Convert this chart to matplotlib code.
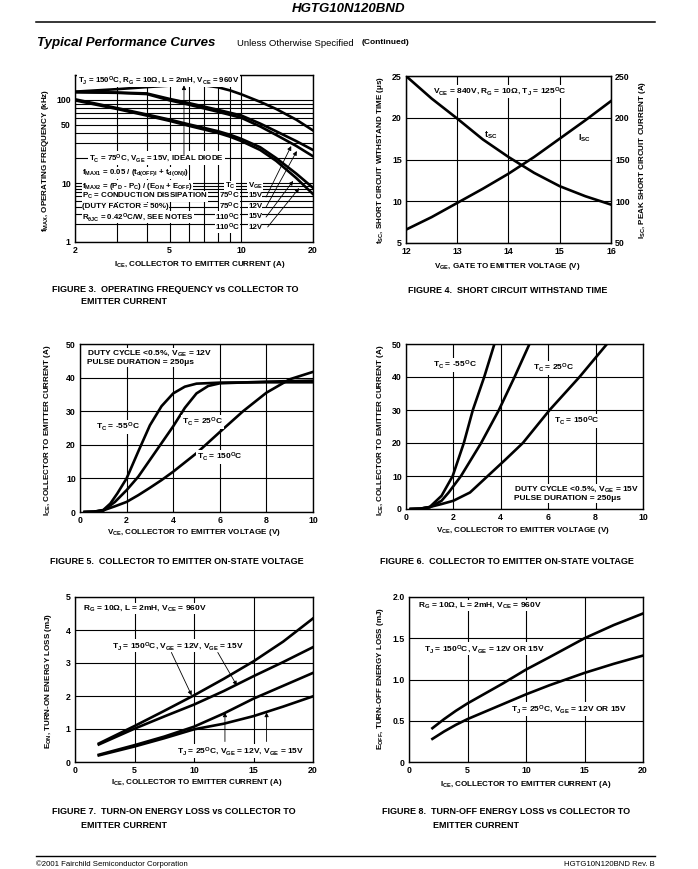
import numpy as np
import matplotlib
matplotlib.use("Agg")
import matplotlib.pyplot as plt
from matplotlib.ticker import FixedLocator, NullFormatter

plt.rcParams['font.family'] = ['Liberation Sans', 'DejaVu Sans']
plt.rcParams['font.weight'] = 'bold'
plt.rcParams['mathtext.fontset'] = 'custom'
plt.rcParams['mathtext.rm'] = 'Liberation Sans:bold'
plt.rcParams['mathtext.it'] = 'Liberation Sans:bold'
plt.rcParams['mathtext.bf'] = 'Liberation Sans:bold'
plt.rcParams['mathtext.default'] = 'regular'

# ---- Figure 3: fMAX vs ICE (log-log)
ice3 = [2, 3, 4, 5, 6, 7, 8, 9, 10, 12, 14, 17, 20]
fmax_diode = [126, 135, 143, 149, 151, 150, 142, 130, 117, 95, 78, 58, 43]
fmax_75_15 = [125, 123, 120, 103, 92, 83, 76, 70, 65, 52, 42, 32, 25]
fmax_75_12 = [124, 122, 118, 99, 88, 79, 72, 66, 61, 48, 38, 28, 21]
fmax_110_15 = [102, 80, 67, 58, 51, 46, 42, 38, 34, 27, 20, 13, 8.3]
fmax_110_12 = [99, 78, 65, 56, 49, 44, 40, 36, 32, 25, 18.5, 11.5, 6.5]

# ---- Figure 4: short circuit withstand time
vge4 = [12, 12.5, 13, 13.5, 14, 14.5, 15, 15.5, 16]
tsc = [25, 22.3, 19.9, 17.4, 15.3, 13.4, 11.8, 10.6, 9.6]
isc = [66, 81, 98, 115, 133, 153, 175, 197, 220]

# ---- Figure 5: on-state voltage, VGE = 12V
vce5_m55 = [0.2, 0.6, 1.0, 1.3, 1.6, 2.0, 2.5, 3.0, 3.5, 4.0, 4.5, 5.0, 6.0, 8.0, 10.0]
ice5_m55 = [0, 0.1, 0.6, 2.5, 5.5, 10, 18, 25.8, 31.5, 35.3, 37.3, 38.2, 38.5, 38.6, 38.6]
vce5_25 = [0.2, 0.6, 1.0, 1.5, 2.0, 2.5, 3.0, 3.5, 4.0, 4.5, 5.0, 5.5, 6.0, 8.0, 10.0]
ice5_25 = [0, 0.1, 0.4, 3, 6.5, 10.5, 15.5, 20.5, 25.5, 31, 35.3, 37.5, 38.3, 38.8, 39.1]
vce5_150 = [0.2, 0.6, 1.0, 1.5, 2.0, 2.5, 3.0, 3.5, 4.0, 5.0, 6.0, 7.0, 8.0, 9.0, 10.0]
ice5_150 = [0, 0.1, 0.5, 1.7, 3, 5, 7.2, 9.5, 12, 17.5, 23.8, 30, 35.5, 39.5, 41.7]

# ---- Figure 6: on-state voltage, VGE = 15V
vce6_m55 = [0.2, 0.6, 1.0, 1.5, 1.97, 2.44, 2.82, 3.3, 3.73]
ice6_m55 = [0, 0.1, 0.6, 4, 10, 20, 30, 40, 50]
vce6_25 = [0.2, 0.6, 1.0, 1.5, 1.8, 2.32, 3.17, 3.92, 4.58, 5.21]
ice6_25 = [0, 0.1, 0.5, 2.5, 5, 10, 20, 30, 40, 50]
vce6_150 = [0.2, 0.6, 1.0, 1.5, 2.0, 2.7, 3.45, 4.2, 4.93, 6.06, 7.32, 8.48]
ice6_150 = [0, 0.1, 0.6, 1.5, 2.5, 5, 10, 15, 20, 30, 40, 50]

# ---- Figure 7: turn-on energy loss
ice7 = [2, 5, 7.5, 10, 12.5, 15, 17.5, 20]
eon_150_12 = [0.56, 1.09, 1.55, 2.02, 2.52, 3.05, 3.65, 4.35]
eon_150_15 = [0.53, 1.01, 1.38, 1.74, 2.15, 2.6, 3.03, 3.48]
eon_25_12 = [0.22, 0.51, 0.77, 1.07, 1.47, 1.92, 2.31, 2.7]
eon_25_15 = [0.2, 0.47, 0.72, 0.99, 1.16, 1.39, 1.68, 1.99]

# ---- Figure 8: turn-off energy loss
ice8 = [2, 3, 4, 5, 6, 8, 10, 12, 15, 17.5, 20]
eoff_150 = [0.41, 0.52, 0.62, 0.71, 0.79, 0.95, 1.12, 1.27, 1.5, 1.66, 1.8]
eoff_25 = [0.28, 0.37, 0.45, 0.52, 0.58, 0.7, 0.82, 0.93, 1.08, 1.19, 1.29]

W, H = 698, 869
fig = plt.figure(figsize=(W / 100, H / 100), dpi=100)
LW = 1.9


def box(l, t, r, b):
    return fig.add_axes([l / W, 1 - b / H, (r - l) / W, (b - t) / H])


def ftext(x, y, s, **kw):
    kw.setdefault('fontsize', 6.5)
    kw.setdefault('va', 'center')
    fig.text(x / W, 1 - y / H, s, **kw)


def note(ax, x, y, s, pad=0.6, **kw):
    kw.setdefault('fontsize', 6)
    kw.setdefault('va', 'center')
    ax.text(x, y, s, transform=ax.transAxes, zorder=5,
            bbox=dict(fc='white', ec='none', pad=pad), **kw)


def arrow(ax, head, tail):
    ax.annotate('', xy=head, xytext=tail, zorder=6,
                arrowprops=dict(arrowstyle='-|>', lw=0.6, color='black',
                                mutation_scale=6, shrinkA=0, shrinkB=0))


def style(ax):
    ax.tick_params(which='both', length=0, labelsize=6.3, pad=3)
    for s in ax.spines.values():
        s.set_linewidth(1.0)
    ax.grid(True, which='both', color='black', lw=0.8)
    ax.set_axisbelow(True)


def deg(t):
    return t + r'$^{O}$C'


# page header / footer
ftext(349, 9, 'HGTG10N120BND', ha='center', fontsize=9.5, style='italic')
fig.add_artist(plt.Line2D([36 / W, 655 / W], [1 - 22 / H, 1 - 22 / H], color='black', lw=1.1))
ftext(37, 43, 'Typical Performance Curves', fontsize=9.5, style='italic')
ftext(237, 43, 'Unless Otherwise Specified', fontsize=6.8, weight='normal',
      family=['Liberation Sans Narrow', 'Liberation Sans'])
ftext(362, 43, '(Continued)', fontsize=6)
fig.add_artist(plt.Line2D([36 / W, 655 / W], [1 - 856 / H, 1 - 856 / H], color='black', lw=1.0))
ftext(36, 864, '\u00a92001 Fairchild Semiconductor Corporation', fontsize=5.6, weight='normal',
      family=['Liberation Sans Narrow', 'Liberation Sans'])
ftext(655, 864, 'HGTG10N120BND Rev. B', fontsize=5.6, weight='normal', ha='right',
      family=['Liberation Sans Narrow', 'Liberation Sans'])

# ================= Figure 3
K = 0.71


def fwd(y):
    l = np.log10(np.maximum(np.asarray(y, dtype=float), 1e-6))
    return np.where(l >= 1, l, 1 + K * (l - 1))


def inv(v):
    v = np.asarray(v, dtype=float)
    return np.where(v >= 1, 10 ** v, 10 ** (1 + (v - 1) / K))


ax3 = box(75, 75, 313, 242)
ax3.set_xscale('log')
ax3.set_yscale('function', functions=(fwd, inv))
for ys in [fmax_diode, fmax_75_15, fmax_75_12, fmax_110_15, fmax_110_12]:
    ax3.plot(ice3, ys, color='black', lw=LW)
ax3.set_xlim(2, 20)
ax3.set_ylim(1, 200)
ax3.xaxis.set_major_locator(FixedLocator([2, 5, 10, 20]))
ax3.xaxis.set_minor_locator(FixedLocator([3, 4, 6, 7, 8, 9]))
ax3.set_xticklabels(['2', '5', '10', '20'])
ax3.yaxis.set_major_locator(FixedLocator([1, 10, 50, 100]))
ax3.yaxis.set_minor_locator(FixedLocator([2, 3, 4, 5, 6, 7, 8, 9, 20, 30, 40, 60, 70, 80, 90, 200]))
ax3.set_yticklabels(['1', '10', '50', '100'])
ax3.xaxis.set_minor_formatter(NullFormatter())
ax3.yaxis.set_minor_formatter(NullFormatter())
style(ax3)
FS3 = 5.7
note(ax3, 0.013, 0.97, r'T$_{J}$ = ' + deg('150') + r', R$_{G}$ = 10Ω, L = 2mH, V$_{CE}$ = 960V', fontsize=FS3)
note(ax3, 0.06, 0.503, r'T$_{C}$ = ' + deg('75') + r', V$_{GE}$ = 15V, IDEAL DIODE', fontsize=FS3)
block = [r'f$_{MAX1}$ = 0.05 / (t$_{d(OFF)I}$ + t$_{d(ON)I}$)',
         r'f$_{MAX2}$ = (P$_{D}$ - P$_{C}$) / (E$_{ON}$ + E$_{OFF}$)',
         r'P$_{C}$ = CONDUCTION DISSIPATION',
         '(DUTY FACTOR = 50%)',
         r'R$_{θJC}$ = 0.42' + r'$^{O}$C/W, SEE NOTES']
block_y = [0.413, 0.335, 0.275, 0.211, 0.150]
for s, yy in zip(block, block_y):
    note(ax3, 0.029, yy, s, pad=0.3, fontsize=FS3)
note(ax3, 0.652, 0.335, r'T$_{C}$', ha='center', pad=0.3, fontsize=FS3)
note(ax3, 0.757, 0.335, r'V$_{GE}$', ha='center', pad=0.3, fontsize=FS3)
tc_rows = ['75', '75', '110', '110']
vge_rows = ['15V', '12V', '15V', '12V']
row_y = [0.277, 0.213, 0.150, 0.086]
for tc, vg, yy in zip(tc_rows, vge_rows, row_y):
    note(ax3, 0.693, yy, deg(tc), ha='right', pad=0.1, fontsize=FS3)
    note(ax3, 0.727, yy, vg, ha='left', pad=0.1, fontsize=FS3)
arrow(ax3, (5.74, 150), (5.74, 22))
arrow(ax3, (16.2, 27.9), (12.7, 5.8))
arrow(ax3, (17.1, 24.3), (12.7, 3.9))
arrow(ax3, (16.5, 10.6), (12.7, 2.65))
arrow(ax3, (17.5, 8.2), (12.9, 1.8))
ftext(46, 160, r'f$_{MAX}$, OPERATING FREQUENCY (kHz)', rotation=90, ha='center', fontsize=5.8)
ftext(200, 264, r'I$_{CE}$, COLLECTOR TO EMITTER CURRENT (A)', ha='center', fontsize=5.8)
ftext(52, 290, 'FIGURE 3.  OPERATING FREQUENCY vs COLLECTOR TO')
ftext(81, 302, 'EMITTER CURRENT')

# ================= Figure 4
ax4 = box(406, 76, 611, 243)
ax4.plot(vge4, tsc, color='black', lw=LW)
ax4.set_xlim(12, 16)
ax4.set_ylim(5, 25)
ax4.set_xticks([12, 13, 14, 15, 16])
ax4.set_yticks([5, 10, 15, 20, 25])
style(ax4)
ax4b = ax4.twinx()
ax4b.plot(vge4, isc, color='black', lw=LW)
ax4b.set_ylim(50, 250)
ax4b.set_yticks([50, 100, 150, 200, 250])
ax4b.tick_params(length=0, labelsize=6.3, pad=3)
note(ax4, 0.134, 0.909, r'V$_{CE}$ = 840V, R$_{G}$ = 10Ω, T$_{J}$ = ' + deg('125'))
ax4.text(0.413, 0.646, r't$_{SC}$', transform=ax4.transAxes, fontsize=6.3, ha='center', va='center')
ax4.text(0.868, 0.628, r'I$_{SC}$', transform=ax4.transAxes, fontsize=6.3, ha='center', va='center')
ftext(381, 160, r't$_{SC}$, SHORT CIRCUIT WITHSTAND TIME (μs)', rotation=90, ha='center', fontsize=5.8)
ftext(643, 160, r'I$_{SC}$, PEAK SHORT CIRCUIT CURRENT (A)', rotation=90, ha='center', fontsize=5.8)
ftext(507, 267, r'V$_{GE}$, GATE TO EMITTER VOLTAGE (V)', ha='center', fontsize=5.8)
ftext(408, 291, 'FIGURE 4.  SHORT CIRCUIT WITHSTAND TIME')

# ================= Figure 5
ax5 = box(80, 344, 313, 512)
ax5.plot(vce5_m55, ice5_m55, color='black', lw=LW)
ax5.plot(vce5_25, ice5_25, color='black', lw=LW)
ax5.plot(vce5_150, ice5_150, color='black', lw=LW)
ax5.set_xlim(0, 10)
ax5.set_ylim(0, 50)
ax5.set_xticks([0, 2, 4, 6, 8, 10])
ax5.set_yticks([0, 10, 20, 30, 40, 50])
style(ax5)
note(ax5, 0.032, 0.946, r'DUTY CYCLE <0.5%, V$_{GE}$ = 12V')
note(ax5, 0.032, 0.887, 'PULSE DURATION = 250μs')
note(ax5, 0.067, 0.505, r'T$_{C}$ = ' + deg('-55'))
note(ax5, 0.439, 0.537, r'T$_{C}$ = ' + deg('25'))
note(ax5, 0.503, 0.328, r'T$_{C}$ = ' + deg('150'))
ftext(48, 430, r'I$_{CE}$, COLLECTOR TO EMITTER CURRENT (A)', rotation=90, ha='center', fontsize=5.8)
ftext(194, 533, r'V$_{CE}$, COLLECTOR TO EMITTER VOLTAGE (V)', ha='center', fontsize=5.8)
ftext(50, 562, 'FIGURE 5.  COLLECTOR TO EMITTER ON-STATE VOLTAGE')

# ================= Figure 6
ax6 = box(406, 344, 643, 509)
ax6.plot(vce6_m55, ice6_m55, color='black', lw=LW)
ax6.plot(vce6_25, ice6_25, color='black', lw=LW)
ax6.plot(vce6_150, ice6_150, color='black', lw=LW)
ax6.set_xlim(0, 10)
ax6.set_ylim(0, 50)
ax6.set_xticks([0, 2, 4, 6, 8, 10])
ax6.set_yticks([0, 10, 20, 30, 40, 50])
style(ax6)
note(ax6, 0.115, 0.873, r'T$_{C}$ = ' + deg('-55'))
note(ax6, 0.534, 0.855, r'T$_{C}$ = ' + deg('25'))
note(ax6, 0.623, 0.533, r'T$_{C}$ = ' + deg('150'))
note(ax6, 0.454, 0.121, r'DUTY CYCLE <0.5%, V$_{GE}$ = 15V')
note(ax6, 0.454, 0.061, 'PULSE DURATION = 250μs')
ftext(380, 430, r'I$_{CE}$, COLLECTOR TO EMITTER CURRENT (A)', rotation=90, ha='center', fontsize=5.8)
ftext(523, 530, r'V$_{CE}$, COLLECTOR TO EMITTER VOLTAGE (V)', ha='center', fontsize=5.8)
ftext(380, 562, 'FIGURE 6.  COLLECTOR TO EMITTER ON-STATE VOLTAGE')

# ================= Figure 7
ax7 = box(75, 597, 313, 762)
for ys in [eon_150_12, eon_150_15, eon_25_12, eon_25_15]:
    ax7.plot(ice7, ys, color='black', lw=LW)
ax7.set_xlim(0, 20)
ax7.set_ylim(0, 5)
ax7.set_xticks([0, 5, 10, 15, 20])
ax7.set_yticks([0, 1, 2, 3, 4, 5])
style(ax7)
note(ax7, 0.034, 0.932, r'R$_{G}$ = 10Ω, L = 2mH, V$_{CE}$ = 960V')
note(ax7, 0.154, 0.705, r'T$_{J}$ = ' + deg('150') + r', V$_{GE}$ = 12V, V$_{GE}$ = 15V')
note(ax7, 0.427, 0.067, r'T$_{J}$ = ' + deg('25') + r', V$_{GE}$ = 12V, V$_{GE}$ = 15V')
arrow(ax7, (9.8, 2.02), (8.1, 3.32))
arrow(ax7, (13.6, 2.32), (12.0, 3.32))
arrow(ax7, (12.6, 1.5), (12.6, 0.62))
arrow(ax7, (16.1, 1.5), (16.1, 0.62))
ftext(49, 681, r'E$_{ON}$, TURN-ON ENERGY LOSS (mJ)', rotation=90, ha='center', fontsize=5.8)
ftext(197, 782, r'I$_{CE}$, COLLECTOR TO EMITTER CURRENT (A)', ha='center', fontsize=5.8)
ftext(52, 812, 'FIGURE 7.  TURN-ON ENERGY LOSS vs COLLECTOR TO')
ftext(81, 825, 'EMITTER CURRENT')

# ================= Figure 8
ax8 = box(409, 597, 643, 762)
ax8.plot(ice8, eoff_150, color='black', lw=LW)
ax8.plot(ice8, eoff_25, color='black', lw=LW)
ax8.set_xlim(0, 20)
ax8.set_ylim(0, 2)
ax8.set_xticks([0, 5, 10, 15, 20])
ax8.set_yticks([0, 0.5, 1.0, 1.5, 2.0])
ax8.set_yticklabels(['0', '0.5', '1.0', '1.5', '2.0'])
style(ax8)
note(ax8, 0.037, 0.949, r'R$_{G}$ = 10Ω, L = 2mH, V$_{CE}$ = 960V')
note(ax8, 0.066, 0.686, r'T$_{J}$ = ' + deg('150') + r', V$_{GE}$ = 12V OR 15V')
note(ax8, 0.438, 0.321, r'T$_{J}$ = ' + deg('25') + r', V$_{GE}$ = 12V OR 15V')
ftext(380, 679, r'E$_{OFF}$, TURN-OFF ENERGY LOSS (mJ)', rotation=90, ha='center', fontsize=5.8)
ftext(526, 784, r'I$_{CE}$, COLLECTOR TO EMITTER CURRENT (A)', ha='center', fontsize=5.8)
ftext(382, 812, 'FIGURE 8.  TURN-OFF ENERGY LOSS vs COLLECTOR TO')
ftext(433, 825, 'EMITTER CURRENT')

fig.savefig('out.png', dpi=100)
